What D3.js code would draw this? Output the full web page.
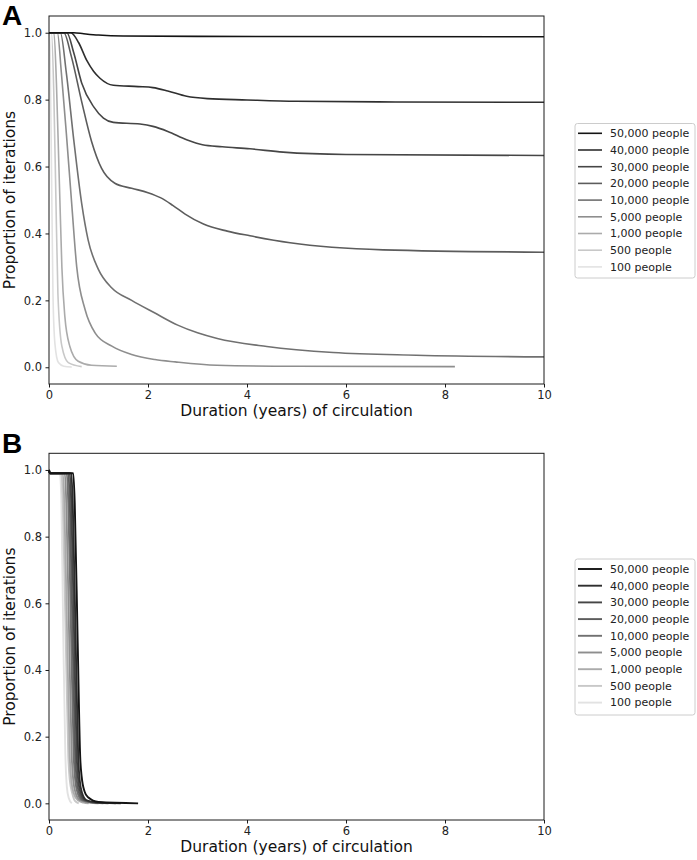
<!DOCTYPE html>
<html><head><meta charset="utf-8">
<script src="https://cdn.jsdelivr.net/npm/d3@7"></script>
<style>
html,body{margin:0;padding:0;background:#fff;}
svg{display:block;font-family:"DejaVu Sans",sans-serif;}
</style></head>
<body>
<svg id="chart" width="697" height="860"></svg>
<script>
// ---------- data ----------
const seriesLabels = ["50,000 people","40,000 people","30,000 people","20,000 people","10,000 people","5,000 people","1,000 people","500 people","100 people"];
const xTicks = [0,2,4,6,8,10];
const yTicks = [0.0,0.2,0.4,0.6,0.8,1.0];
const xLabel = "Duration (years) of circulation";
const yLabel = "Proportion of iterations";

// Panel A: [duration, proportion]
const a50000 = [[0,1],[0.5,1],[0.7,0.997],[1.0,0.993],[1.5,0.99],[3,0.989],[10,0.988]];
const a40000 = [[0,1],[0.44,1],[0.6,0.97],[0.76,0.918],[0.9,0.885],[1.03,0.864],[1.3,0.843],[1.8,0.839],[2.1,0.836],[2.4,0.826],[2.78,0.81],[3.2,0.803],[4,0.799],[5,0.795],[7,0.793],[10,0.792]];
const a30000 = [[0,1],[0.36,1],[0.5,0.94],[0.66,0.85],[0.9,0.779],[1.1,0.745],[1.3,0.732],[1.84,0.727],[2.1,0.72],[2.4,0.705],[2.78,0.68],[3.1,0.665],[3.5,0.659],[4.06,0.653],[4.73,0.643],[6,0.636],[10,0.633]];
const a20000 = [[0,1],[0.3,1],[0.45,0.93],[0.66,0.794],[0.86,0.675],[1.06,0.595],[1.33,0.55],[1.67,0.535],[2.0,0.522],[2.25,0.507],[2.5,0.484],[2.75,0.458],[3.12,0.428],[3.6,0.407],[4.06,0.393],[4.87,0.372],[6.75,0.351],[10,0.344]];
const a10000 = [[0,1],[0.23,1],[0.35,0.88],[0.5,0.68],[0.66,0.49],[0.79,0.381],[1.0,0.292],[1.27,0.237],[1.67,0.2],[2.14,0.162],[2.6,0.126],[3.0,0.103],[3.4,0.086],[4.4,0.062],[5.74,0.044],[7.42,0.036],[10,0.031]];
const a5000  = [[0,1],[0.17,1],[0.25,0.88],[0.35,0.7],[0.46,0.486],[0.56,0.3],[0.73,0.172],[0.93,0.103],[1.27,0.063],[1.67,0.038],[2.14,0.023],[2.55,0.016],[3.39,0.006],[5,0.003],[8.2,0.002]];
const a1000  = [[0,1],[0.1,1],[0.15,0.85],[0.2,0.6],[0.22,0.5],[0.26,0.3],[0.32,0.152],[0.42,0.063],[0.59,0.018],[0.86,0.006],[1.37,0.003]];
const a500   = [[0,1],[0.05,1],[0.1,0.8],[0.14,0.5],[0.18,0.22],[0.26,0.063],[0.39,0.014],[0.66,0.002]];
const a100   = [[0,1],[0.02,0.95],[0.05,0.6],[0.08,0.22],[0.12,0.07],[0.19,0.014],[0.3,0.003],[0.46,0.001]];

// Panel B: [duration, proportion]
const b50000 = [[0,1],[0.02,0.99],[0.49,0.99],[0.52,0.9],[0.58,0.48],[0.63,0.14],[0.66,0.08],[0.72,0.035],[0.79,0.018],[1.0,0.004],[1.8,0.0]];
const b40000 = [[0,1],[0.02,0.99],[0.45,0.99],[0.48,0.9],[0.54,0.48],[0.59,0.14],[0.62,0.07],[0.67,0.03],[0.75,0.01],[0.95,0.003],[1.45,0.0]];
const b30000 = [[0,1],[0.02,0.99],[0.42,0.99],[0.45,0.9],[0.51,0.48],[0.56,0.14],[0.59,0.07],[0.64,0.03],[0.72,0.01],[0.92,0.003],[1.35,0.0]];
const b20000 = [[0,1],[0.02,0.99],[0.39,0.99],[0.42,0.9],[0.48,0.48],[0.53,0.14],[0.56,0.07],[0.61,0.03],[0.69,0.01],[0.89,0.003],[1.2,0.0]];
const b10000 = [[0,1],[0.02,0.99],[0.36,0.99],[0.39,0.9],[0.45,0.48],[0.5,0.14],[0.53,0.07],[0.58,0.03],[0.66,0.01],[0.86,0.003],[1.1,0.0]];
const b5000  = [[0,1],[0.02,0.99],[0.32,0.99],[0.35,0.9],[0.41,0.48],[0.46,0.14],[0.49,0.07],[0.54,0.03],[0.62,0.01],[0.82,0.002],[1.0,0.0]];
const b1000  = [[0,1],[0.02,0.99],[0.28,0.99],[0.31,0.9],[0.37,0.48],[0.42,0.14],[0.45,0.07],[0.5,0.03],[0.58,0.01],[0.7,0.002],[0.8,0.0]];
const b500   = [[0,1],[0.02,0.99],[0.25,0.99],[0.28,0.9],[0.34,0.48],[0.39,0.14],[0.42,0.07],[0.47,0.03],[0.52,0.008],[0.6,0.0]];
const b100   = [[0,1],[0.02,0.99],[0.22,0.99],[0.25,0.9],[0.29,0.49],[0.33,0.15],[0.36,0.05],[0.4,0.015],[0.46,0.0]];

const panelAData = [a50000,a40000,a30000,a20000,a10000,a5000,a1000,a500,a100];
const panelBData = [b50000,b40000,b30000,b20000,b10000,b5000,b1000,b500,b100];

// ---------- styles ----------
const greys = ["#141414","#2f2f2f","#464646","#5c5c5c","#707070","#8e8e8e","#ababab","#c8c8c8","#e2e2e2"];

const svg = d3.select("#chart");

function panel(cfg){
  const x = d3.scaleLinear().domain([0, 10]).range([49, 544]);
  const y = d3.scaleLinear().domain([-0.05, 1.05]).range([cfg.bottom, cfg.top]);
  const g = svg.append("g");

  const line = d3.line().x(d=>x(d[0])).y(d=>y(d[1])).curve(d3.curveMonotoneX);
  const order = d3.range(cfg.data.length).reverse();
  order.forEach(i=>{
    g.append("path").datum(cfg.data[i]).attr("d", line)
      .attr("fill","none").attr("stroke",greys[i]).attr("stroke-width",cfg.lw)
      .attr("stroke-linejoin","round").attr("stroke-linecap","butt");
  });

  g.append("rect").attr("x",49).attr("y",cfg.top).attr("width",544-49).attr("height",cfg.bottom-cfg.top)
    .attr("fill","none").attr("stroke","#1a1a1a").attr("stroke-width",1);

  const xAxis = d3.axisBottom(x).tickValues(xTicks).tickFormat(d3.format("d")).tickSize(3.5).tickPadding(3.5);
  const gx = g.append("g").attr("transform",`translate(0,${cfg.bottom})`).call(xAxis);
  const yAxis = d3.axisLeft(y).tickValues(yTicks).tickFormat(d3.format(".1f")).tickSize(3.5).tickPadding(3.5);
  const gy = g.append("g").attr("transform","translate(49,0)").call(yAxis);
  [gx,gy].forEach(a=>{
    a.select(".domain").remove();
    a.selectAll(".tick line").attr("stroke","#1a1a1a");
    a.selectAll(".tick text").attr("fill","#222").style("font-family","DejaVu Sans").style("font-size","11.5px");
  });

  g.append("text").attr("x",296.5).attr("y",cfg.bottom+32).attr("text-anchor","middle")
    .style("font-size","15.5px").attr("fill","#111").text(xLabel);
  g.append("text").attr("transform",`translate(15,${(cfg.top+cfg.bottom)/2}) rotate(-90)`).attr("text-anchor","middle")
    .style("font-size","15.5px").attr("fill","#111").text(yLabel);

  g.append("text").attr("x",2).attr("y",cfg.letterY).style("font-family","Liberation Sans, Arial, sans-serif")
    .style("font-weight","bold").style("font-size","28px").attr("fill","#000").text(cfg.letter);

  const lg = g.append("g");
  lg.append("rect").attr("x",575).attr("y",cfg.legTop).attr("width",120).attr("height",cfg.legH)
    .attr("rx",2.5).attr("fill","#fff").attr("stroke","#cccccc").attr("stroke-width",1);
  seriesLabels.forEach((lab,i)=>{
    const yy = cfg.legRow0 + i*16.7;
    lg.append("line").attr("x1",578).attr("x2",602).attr("y1",yy).attr("y2",yy)
      .attr("stroke",greys[i]).attr("stroke-width",cfg.lw);
    lg.append("text").attr("x",610).attr("y",yy).attr("dy","0.35em")
      .style("font-size","11px").attr("fill","#222").text(lab);
  });
}

panel({data:panelAData, top:16, bottom:384, letter:"A", letterY:25, lw:1.6,
       legTop:123.5, legH:154.5, legRow0:133.3});
panel({data:panelBData, top:453.3, bottom:820, letter:"B", letterY:453, lw:1.9,
       legTop:559, legH:156, legRow0:569});
</script>
</body></html>
